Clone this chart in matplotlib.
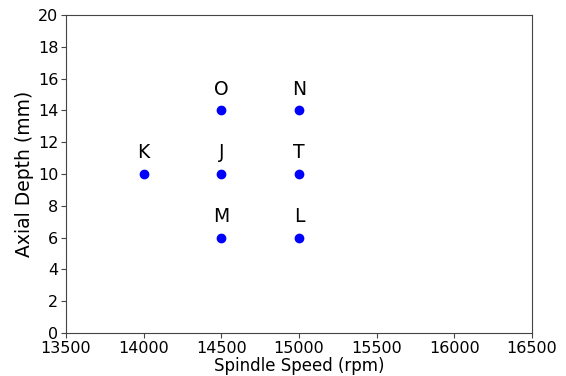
import matplotlib.pyplot as plt

labels = ['K', 'O', 'J', 'M', 'N', 'T', 'L']
speeds = [14000, 14500, 14500, 14500, 15000, 15000, 15000]
depths = [10, 14, 10, 6, 14, 10, 6]

fig = plt.figure(figsize=(5.66, 3.76), dpi=100)
ax = fig.add_axes([0.1166, 0.1144, 0.8234, 0.8456])

ax.scatter(speeds, depths, color='blue', s=36, zorder=3)
for lab, x, y in zip(labels, speeds, depths):
    ax.text(x, y + 0.75, lab, ha='center', va='bottom', fontsize=13.5)

ax.set_xlim(13500, 16500)
ax.set_ylim(0, 20)
ax.set_xticks(range(13500, 16501, 500))
ax.set_yticks(range(0, 21, 2))
ax.tick_params(labelsize=11.5, color='#444', pad=2)
for s in ax.spines.values():
    s.set_color('#444')
ax.set_xlabel('Spindle Speed (rpm)', fontsize=12, labelpad=1)
ax.set_ylabel('Axial Depth (mm)', fontsize=13.5, labelpad=3)

fig.savefig('out.png', dpi=100)
